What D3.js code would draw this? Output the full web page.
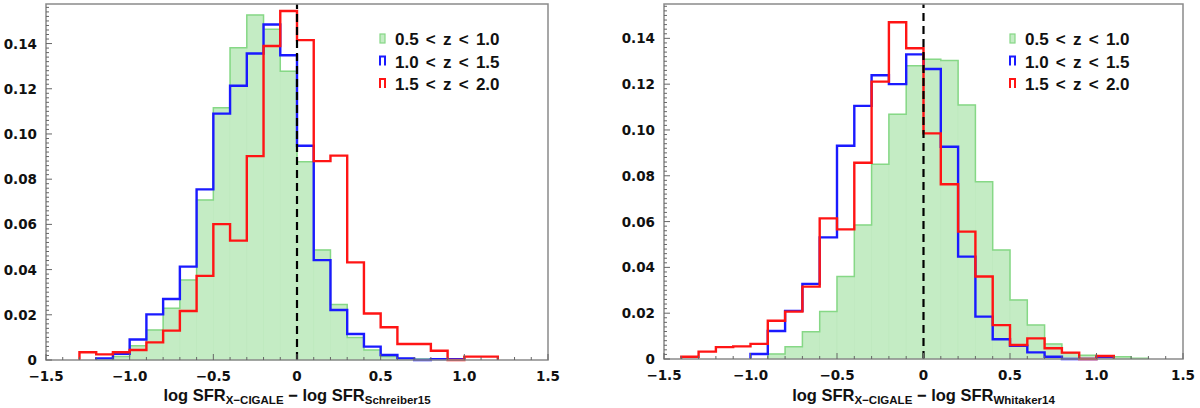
<!DOCTYPE html>
<html>
<head>
<meta charset="utf-8">
<script src="https://cdn.jsdelivr.net/npm/d3@7"></script>
<style>
  body { margin: 0; background: #fff; }
  svg text { font-family: "DejaVu Sans", sans-serif; font-weight: bold; fill: #111; }
  svg text.sans { font-family: "Liberation Sans", Arial, sans-serif; }
</style>
</head>
<body>
<svg id="chart" width="1200" height="408"></svg>
<script>
// bin starts (width 0.1) for each panel
var leftBins = [-1.3, -1.2, -1.1, -1.0, -0.9, -0.8, -0.7, -0.6, -0.5, -0.4, -0.3, -0.2, -0.1, 0.0, 0.1, 0.2, 0.3, 0.4, 0.5, 0.6, 0.7, 0.8, 0.9, 1.0, 1.1];
var rightBins = [-1.4, -1.3, -1.2, -1.1, -1.0, -0.9, -0.8, -0.7, -0.6, -0.5, -0.4, -0.3, -0.2, -0.1, 0.0, 0.1, 0.2, 0.3, 0.4, 0.5, 0.6, 0.7, 0.8, 0.9, 1.0, 1.1, 1.2];

// left panel: Schreiber15
var leftGreen = [0, 0.0005, 0.0015, 0.0063, 0.0133, 0.0229, 0.0354, 0.0708, 0.1116, 0.1381, 0.1526, 0.1463, 0.1278, 0.0877, 0.0487, 0.0246, 0.0100, 0.0044, 0.0015, 0.0007, 0.0004, 0.0003, 0, 0, 0];
var leftBlue = [0, 0.0007, 0.0027, 0.0091, 0.0202, 0.0270, 0.0413, 0.0755, 0.1090, 0.1213, 0.1356, 0.1484, 0.1348, 0.0948, 0.0442, 0.0221, 0.0115, 0.0059, 0.0022, 0.0007, 0, 0.0004, 0.0004, 0, 0];
var leftRed = [0.0034, 0.0025, 0.0034, 0.0044, 0.0078, 0.0130, 0.0217, 0.0372, 0.0601, 0.0528, 0.0902, 0.1389, 0.1544, 0.1415, 0.0880, 0.0904, 0.0432, 0.0206, 0.0145, 0.0071, 0.0071, 0.0041, 0, 0.0015, 0.0015];

// right panel: Whitaker14
var rightGreen = [0, 0, 0, 0, 0, 0.0022, 0.0054, 0.0119, 0.0207, 0.0360, 0.0585, 0.0850, 0.1069, 0.1280, 0.1309, 0.1303, 0.1109, 0.0774, 0.0476, 0.0258, 0.0148, 0.0066, 0.0025, 0.0016, 0.0013, 0.0010, 0.0003];
var rightBlue = [0, 0, 0, 0, 0.0022, 0.0122, 0.0210, 0.0328, 0.0531, 0.0931, 0.1105, 0.1239, 0.1200, 0.1330, 0.1266, 0.0927, 0.0447, 0.0185, 0.0086, 0.0058, 0.0029, 0.0010, 0, 0, 0.0008, 0, 0];
var rightRed = [0.0010, 0.0032, 0.0052, 0.0055, 0.0066, 0.0167, 0.0207, 0.0316, 0.0614, 0.0566, 0.0857, 0.1211, 0.1470, 0.1357, 0.0985, 0.0763, 0.0556, 0.0360, 0.0148, 0.0061, 0.0090, 0.0047, 0.0028, 0, 0.0013, 0, 0];

var legendLabels = ["0.5 < z < 1.0", "1.0 < z < 1.5", "1.5 < z < 2.0"];
var xTicks = [-1.5, -1.0, -0.5, 0, 0.5, 1.0, 1.5];
var yTicks = [0, 0.02, 0.04, 0.06, 0.08, 0.10, 0.12, 0.14];

var svg = d3.select("#chart");

const fmtX = function(d) {
  if (d == 0) return "0";
  return (d < 0 ? "\u2212" : "") + Math.abs(d).toFixed(1);
}
const fmtY = function(d) {
  return d == 0 ? "0" : d.toFixed(2);
}

//Build step outline points for a histogram, trimming empty ends
const stepPoints = function(bins, vals) {
  var first = vals.findIndex(v => v > 0);
  var last = vals.length - 1;
  while (vals[last] == 0) last--;
  var pts = [[bins[first], 0]];
  for (var i = first; i <= last; i++) {
    pts.push([bins[i], vals[i]]);
    pts.push([bins[i] + 0.1, vals[i]]);
  }
  pts.push([bins[last] + 0.1, 0]);
  return pts;
}

const drawPanel = function(p) {
  var x = d3.scaleLinear().domain([-1.5, 1.5]).range([p.left, p.right]);
  var y = d3.scaleLinear().domain([0, p.yMax]).range([p.bottom, p.top]);
  var g = svg.append("g");

  // green filled bars
  g.selectAll("rect.green")
    .data(p.bins.map((b, i) => ({b: b, v: p.green[i]})).filter(d => d.v > 0))
    .enter().append("rect")
    .attr("x", d => x(d.b))
    .attr("y", d => y(d.v))
    .attr("width", d => x(d.b + 0.1) - x(d.b))
    .attr("height", d => y(0) - y(d.v))
    .attr("fill", "#c4ecc4")
    .attr("stroke", "#bce8bc")
    .attr("stroke-width", 0.6);

  var line = d3.line().x(d => x(d[0])).y(d => y(d[1]));
  g.append("path").attr("d", line(stepPoints(p.bins, p.green)))
    .attr("fill", "none").attr("stroke", "#86d886").attr("stroke-width", 1.5);
  g.append("path").attr("d", line(stepPoints(p.bins, p.blue)))
    .attr("fill", "none").attr("stroke", "#1a1aff").attr("stroke-width", 2.4);
  g.append("path").attr("d", line(stepPoints(p.bins, p.red)))
    .attr("fill", "none").attr("stroke", "#ff1414").attr("stroke-width", 2.4);

  // dashed line at zero
  g.append("line")
    .attr("x1", x(0)).attr("x2", x(0))
    .attr("y1", y(0)).attr("y2", p.top)
    .attr("stroke", "#000").attr("stroke-width", 2.2)
    .attr("stroke-dasharray", "8,5");

  // frame
  g.append("rect")
    .attr("x", p.left).attr("y", p.top)
    .attr("width", p.right - p.left).attr("height", p.bottom - p.top)
    .attr("fill", "none").attr("stroke", "#8a8a8a").attr("stroke-width", 1.5);

  // x ticks (inward), minor every 0.1
  var xMinor = d3.range(-15, 16).map(k => k / 10);
  g.selectAll("line.xt").data(xMinor).enter().append("line")
    .attr("x1", d => x(d)).attr("x2", d => x(d))
    .attr("y1", p.bottom).attr("y2", d => p.bottom - (Math.abs(d * 2 - Math.round(d * 2)) < 1e-6 ? 6 : 3))
    .attr("stroke", "#666").attr("stroke-width", 1);
  g.selectAll("text.xl").data(xTicks).enter().append("text")
    .attr("x", d => x(d)).attr("y", p.bottom + 21)
    .attr("text-anchor", "middle").attr("font-size", 13.5)
    .text(fmtX);

  // y ticks (inward), minor every 0.002
  var yMinor = d3.range(0, Math.floor(p.yMax * 500) + 1).map(k => k / 500);
  g.selectAll("line.yt").data(yMinor).enter().append("line")
    .attr("x1", p.left).attr("x2", (d, i) => p.left + (i % 10 == 0 ? 6 : 3))
    .attr("y1", d => y(d)).attr("y2", d => y(d))
    .attr("stroke", "#666").attr("stroke-width", 1);
  g.selectAll("text.yl").data(yTicks).enter().append("text")
    .attr("x", p.left - 9).attr("y", d => y(d) + 5)
    .attr("text-anchor", "end").attr("font-size", 13.5)
    .text(fmtY);

  // axis title with subscripts
  var t = g.append("text").attr("class", "sans")
    .attr("x", (p.left + p.right) / 2).attr("y", 401)
    .attr("text-anchor", "middle").attr("font-size", 16.5);
  t.append("tspan").text("log SFR");
  t.append("tspan").attr("font-size", 11.5).attr("dy", 3).text("X\u2212CIGALE");
  t.append("tspan").attr("dy", -3).text(" \u2212 log SFR");
  t.append("tspan").attr("font-size", 11.5).attr("dy", 3).text(p.sub);

  // legend
  var colors = [["#c4ecc4", "#86d886"], ["none", "#1a1aff"], ["none", "#ff1414"]];
  legendLabels.forEach((lab, i) => {
    var ly = p.legendY + i * 22.5;
    if (i == 0) {
      g.append("rect").attr("x", p.legendX).attr("y", ly - 5).attr("width", 5).attr("height", 9)
        .attr("fill", colors[i][0]).attr("stroke", colors[i][1]).attr("stroke-width", 1.2);
    } else {
      g.append("path")
        .attr("d", "M" + p.legendX + "," + (ly + 4) + "V" + (ly - 5) + "H" + (p.legendX + 5) + "V" + (ly + 4))
        .attr("fill", "none").attr("stroke", colors[i][1]).attr("stroke-width", 2);
    }
    g.append("text").attr("class", "sans").attr("x", p.legendX + 15).attr("y", ly + 6)
      .attr("font-size", 17).attr("word-spacing", 2.5).text(lab);
  });
}

drawPanel({left: 46, right: 548, top: 4, bottom: 360, yMax: 0.1575,
  bins: leftBins, green: leftGreen, blue: leftBlue, red: leftRed,
  sub: "Schreiber15", legendX: 380, legendY: 39});
drawPanel({left: 664, right: 1183, top: 4, bottom: 359, yMax: 0.155,
  bins: rightBins, green: rightGreen, blue: rightBlue, red: rightRed,
  sub: "Whitaker14", legendX: 1010, legendY: 39});
</script>
</body>
</html>
